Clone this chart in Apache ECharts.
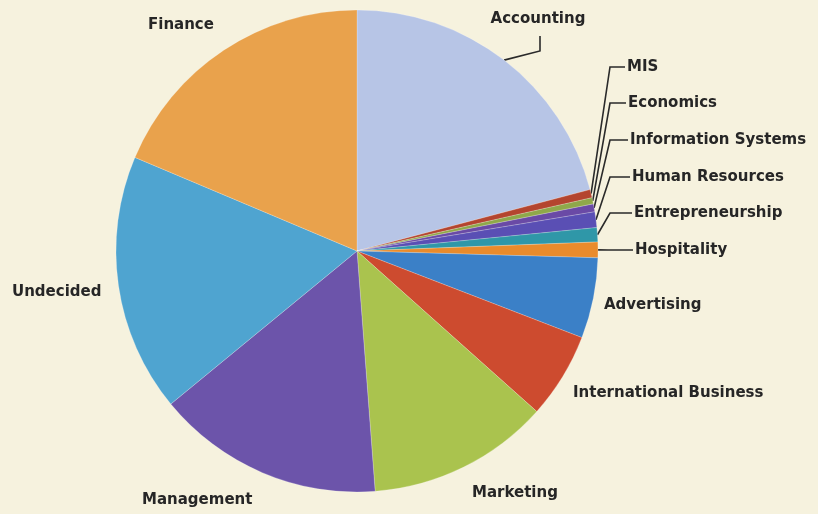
<!DOCTYPE html>
<html>
<head>
<meta charset="utf-8">
<script src="https://cdn.jsdelivr.net/npm/echarts@6/dist/echarts.min.js"></script>
<style>
  html, body { margin: 0; background: #f6f2de; }
  #chart { width: 818px; height: 514px; }
</style>
</head>
<body>
<div id="chart"></div>
<script>
// share of students by major (%), clockwise from 12 o'clock
const majors = ['Accounting', 'MIS', 'Economics', 'Information Systems', 'Human Resources',
  'Entrepreneurship', 'Hospitality', 'Advertising', 'International Business', 'Marketing',
  'Management', 'Undecided', 'Finance']
const shares = [20.9, 0.55, 0.42, 0.53, 1.05, 0.95, 1.05, 5.4, 5.75, 12.2, 15.25, 17.3, 18.65]
const colors = ['#b7c5e6', '#b4452f', '#8fa84a', '#6a4aa6', '#5a4fb4', '#2f97a8', '#e98b2c',
  '#3b80c7', '#cd4b2f', '#aac34e', '#6c54aa', '#4fa4d0', '#e9a24c']

// where each label text sits: [x, y, align], and if it has a leader line
const labelSpots = [
  [538, 19, 'center', true],
  [627, 67, 'left', true],
  [628, 103, 'left', true],
  [630, 140, 'left', true],
  [632, 177, 'left', true],
  [634, 213, 'left', true],
  [635, 250, 'left', true],
  [604, 305, 'left', false],
  [573, 393, 'left', false],
  [472, 493, 'left', false],
  [142, 500, 'left', false],
  [12, 292, 'left', false],
  [148, 25, 'left', false]
]

const chart = echarts.init(document.getElementById('chart'), null, { renderer: 'canvas' })

chart.setOption({
  backgroundColor: '#f6f2de',
  animation: false,
  series: [{
    type: 'pie',
    center: [357, 251],
    radius: 241,
    startAngle: 90,
    clockwise: true,
    avoidLabelOverlap: false,
    itemStyle: {
      borderColor: 'rgba(255,255,255,0.35)',
      borderWidth: 0.6
    },
    label: {
      show: true,
      position: 'outside',
      color: '#262626',
      fontFamily: 'DejaVu Sans',
      fontWeight: 'bold',
      fontSize: 15
    },
    labelLine: {
      show: true,
      lineStyle: { color: '#2a2a2a', width: 1.6 }
    },
    data: majors.map((name, i) => ({
      name,
      value: shares[i],
      itemStyle: { color: colors[i] },
      labelLine: { show: labelSpots[i][3] }
    })),
    labelLayout(params) {
      const [x, y, align, hasLine] = labelSpots[params.dataIndex]
      const out = { x, y, align, verticalAlign: 'middle' }
      if (hasLine && params.labelLinePoints) {
        const edge = params.labelLinePoints[0]
        if (params.dataIndex === 0) {
          out.labelLinePoints = [edge, [540, 51], [540, 36]]
        } else {
          const bendX = params.dataIndex === 6 ? edge[0] + 10 : 610
          out.labelLinePoints = [edge, [bendX, y], [x - 2, y]]
        }
      }
      return out
    }
  }]
})
</script>
</body>
</html>
